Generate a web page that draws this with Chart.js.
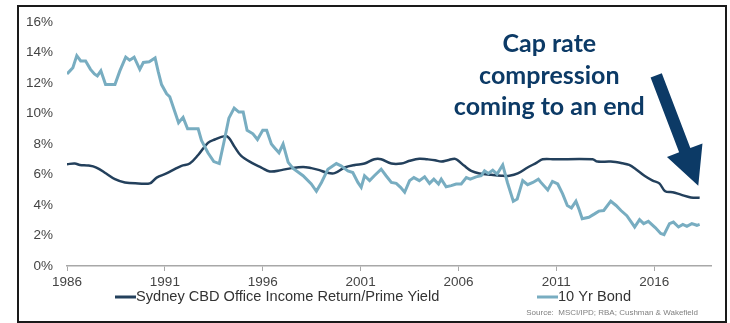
<!DOCTYPE html>
<html>
<head>
<meta charset="utf-8">
<script src="https://cdn.jsdelivr.net/npm/chart.js@4/dist/chart.umd.min.js"></script>
<style>
  html, body { margin: 0; padding: 0; background: #fff; }
  #wrap { position: relative; width: 730px; height: 323px; }
  #chart { position: absolute; left: 0; top: 0; }
  #frame {
    position: absolute; left: 17px; top: 5px; width: 706px; height: 314px;
    border: 2px solid #1a1a1a; pointer-events: none;
  }
</style>
</head>
<body>
<div id="wrap">
  <canvas id="chart" width="730" height="323"></canvas>
  <div id="frame"></div>
</div>
<script>
// Sydney CBD office income return vs 10 year bond yield (% p.a.)
const yieldYears = [1986.0, 1986.4, 1986.66, 1987.09, 1987.5, 1988.0, 1988.45, 1988.96, 1989.64, 1990.23,
  1990.58, 1991.08, 1991.5, 1991.85, 1992.27, 1992.7, 1993.2, 1993.55, 1994.06, 1994.27,
  1994.57, 1994.9, 1995.42, 1995.93, 1996.36, 1996.95, 1997.46, 1998.06, 1998.48, 1998.9,
  1999.25, 1999.67, 2000.18, 2000.7, 2001.2, 2001.7, 2002.05, 2002.57, 2003.08, 2003.5,
  2004.0, 2004.4, 2004.8, 2005.12, 2005.45, 2005.8, 2005.96, 2006.3, 2006.65, 2007.07,
  2007.67, 2008.18, 2008.6, 2009.03, 2009.53, 2010.0, 2010.3, 2010.9, 2012.85, 2013.1,
  2013.78, 2014.38, 2014.72, 2015.06, 2015.5, 2015.92, 2016.26, 2016.56, 2016.94, 2017.36,
  2017.87, 2018.32];
const yieldValues = [6.68, 6.72, 6.63, 6.59, 6.46, 6.07, 5.7, 5.48, 5.42, 5.42,
  5.8, 6.07, 6.35, 6.57, 6.72, 7.28, 8.08, 8.3, 8.52, 8.41,
  7.8, 7.22, 6.78, 6.46, 6.2, 6.29, 6.42, 6.5, 6.42, 6.29,
  6.13, 6.09, 6.46, 6.63, 6.72, 7.0, 7.0, 6.72, 6.72, 6.9,
  7.04, 7.0, 6.94, 6.85, 6.94, 7.04, 6.94, 6.57, 6.24, 6.07,
  5.98, 5.92, 5.92, 6.07, 6.46, 6.78, 7.0, 7.0, 7.0, 6.85,
  6.85, 6.74, 6.63, 6.35, 5.92, 5.6, 5.42, 4.9, 4.84, 4.68,
  4.5, 4.47];

const bondYears = [1986.0, 1986.15, 1986.3, 1986.5, 1986.7, 1986.95, 1987.2, 1987.4, 1987.55, 1987.73,
  1987.97, 1988.45, 1988.7, 1989.0, 1989.2, 1989.43, 1989.72, 1989.9, 1990.2, 1990.5,
  1990.66, 1990.83, 1991.09, 1991.25, 1991.5, 1991.7, 1991.93, 1992.16, 1992.7, 1992.87,
  1993.2, 1993.5, 1993.78, 1994.03, 1994.27, 1994.54, 1994.78, 1995.0, 1995.2, 1995.5,
  1995.73, 1996.0, 1996.2, 1996.44, 1996.6, 1996.83, 1997.04, 1997.3, 1997.55, 1998.06,
  1998.48, 1998.74, 1999.0, 1999.33, 1999.76, 2000.0, 2000.35, 2000.6, 2000.86, 2001.03,
  2001.2, 2001.46, 2001.7, 2002.05, 2002.3, 2002.57, 2002.82, 2003.04, 2003.25, 2003.5,
  2003.72, 2004.0, 2004.27, 2004.52, 2004.74, 2004.98, 2005.12, 2005.37, 2005.63, 2005.88,
  2006.14, 2006.4, 2006.6, 2006.9, 2007.16, 2007.33, 2007.53, 2007.75, 2007.97, 2008.26,
  2008.5, 2008.8, 2009.0, 2009.28, 2009.53, 2009.8, 2010.08, 2010.2, 2010.56, 2010.8,
  2011.07, 2011.32, 2011.56, 2011.77, 2012.0, 2012.15, 2012.32, 2012.66, 2012.95, 2013.17,
  2013.42, 2013.78, 2014.05, 2014.3, 2014.6, 2015.0, 2015.25, 2015.46, 2015.7, 2016.05,
  2016.33, 2016.5, 2016.78, 2016.98, 2017.24, 2017.46, 2017.67, 2017.92, 2018.18, 2018.32];
const bondValues = [12.6, 12.8, 13.0, 13.8, 13.45, 13.45, 12.9, 12.6, 12.47, 12.8,
  11.9, 11.9, 12.8, 13.7, 13.5, 13.7, 12.9, 13.35, 13.4, 13.65,
  12.75, 11.9, 11.3, 11.1, 10.15, 9.4, 9.75, 9.0, 9.0, 8.24,
  7.43, 6.85, 6.72, 8.2, 9.7, 10.36, 10.1, 10.1, 8.9, 8.67,
  8.3, 8.9, 8.9, 8.0, 7.76, 7.43, 8.0, 6.8, 6.4, 5.92,
  5.38, 4.9, 5.48, 6.35, 6.72, 6.57, 6.24, 6.13, 5.48, 5.16,
  5.92, 5.6, 5.92, 6.35, 5.92, 5.48, 5.42, 5.16, 4.84, 5.6,
  5.8, 5.6, 5.85, 5.42, 5.7, 5.38, 5.7, 5.2, 5.27, 5.38,
  5.38, 5.8, 5.7, 5.85, 5.92, 6.24, 6.07, 6.29, 6.03, 6.63,
  5.48, 4.25, 4.4, 5.6, 5.33, 5.48, 5.7, 5.5, 4.99, 5.55,
  5.38, 4.73, 3.97, 3.81, 4.25, 3.75, 3.1, 3.2, 3.42, 3.6,
  3.64, 4.25, 3.97, 3.64, 3.3, 2.56, 3.04, 2.78, 2.93, 2.52,
  2.13, 2.06, 2.78, 2.88, 2.56, 2.73, 2.6, 2.78, 2.67, 2.73];

const xTicks = [1986, 1991, 1996, 2001, 2006, 2011, 2016];
const seriesNames = ['Sydney CBD Office Income Return/Prime Yield', '10 Yr Bond'];
const calloutLines = ['Cap rate', 'compression', 'coming to an end'];
const sourceNote = 'Source:  MSCI/IPD; RBA; Cushman & Wakefield';

const NAVY = '#0c3a66';
const AXIS_FONT = { family: "'Liberation Sans', Arial, sans-serif", size: 13.5 };

function toPoints(xs, ys) {
  return xs.map((x, i) => ({ x, y: ys[i] }));
}

// Custom legend row under the axis
const bottomLegend = {
  id: 'bottomLegend',
  afterDraw(chart) {
    const ctx = chart.ctx;
    const slots = [115, 537];
    ctx.save();
    ctx.font = "14.6px 'Liberation Sans', Arial, sans-serif";
    ctx.textBaseline = 'middle';
    chart.data.datasets.forEach((ds, i) => {
      const x = slots[i], y = 297;
      ctx.strokeStyle = ds.borderColor;
      ctx.lineWidth = 3;
      ctx.beginPath();
      ctx.moveTo(x, y);
      ctx.lineTo(x + 21, y);
      ctx.stroke();
      ctx.fillStyle = '#333';
      ctx.fillText(ds.label, x + 21, y);
    });
    ctx.font = "8px 'Liberation Sans', Arial, sans-serif";
    ctx.fillStyle = '#808080';
    ctx.textAlign = 'right';
    ctx.fillText(sourceNote, 698, 313);
    ctx.restore();
  }
};

// Callout text and arrow pointing at the latest readings
const callout = {
  id: 'callout',
  afterDraw(chart) {
    const ctx = chart.ctx;
    const xs = chart.scales.x, ys = chart.scales.y;
    ctx.save();
    ctx.fillStyle = NAVY;
    ctx.font = "bold 25px Lato, 'Open Sans', sans-serif";
    ctx.textAlign = 'center';
    ctx.textBaseline = 'middle';
    const cx = xs.getPixelForValue(2010.64);
    calloutLines.forEach((t, i) => {
      ctx.fillText(t, cx, ys.getPixelForValue(14.55 - i * 2.05));
    });

    const tail = { x: xs.getPixelForValue(2016.1), y: ys.getPixelForValue(12.5) };
    const tip = { x: xs.getPixelForValue(2018.25), y: ys.getPixelForValue(5.27) };
    const dx = tip.x - tail.x, dy = tip.y - tail.y;
    const len = Math.hypot(dx, dy);
    const ux = dx / len, uy = dy / len;
    const nx = -uy, ny = ux;
    const shaft = 6, head = 19, headLen = 38;
    const bx = tip.x - ux * headLen, by = tip.y - uy * headLen;
    ctx.beginPath();
    ctx.moveTo(tail.x + nx * shaft, tail.y + ny * shaft);
    ctx.lineTo(bx + nx * shaft, by + ny * shaft);
    ctx.lineTo(bx + nx * head, by + ny * head);
    ctx.lineTo(tip.x, tip.y);
    ctx.lineTo(bx - nx * head, by - ny * head);
    ctx.lineTo(bx - nx * shaft, by - ny * shaft);
    ctx.lineTo(tail.x - nx * shaft, tail.y - ny * shaft);
    ctx.closePath();
    ctx.fill();
    ctx.restore();
  }
};

new Chart(document.getElementById('chart'), {
  type: 'line',
  data: {
    datasets: [
      {
        label: seriesNames[0],
        data: toPoints(yieldYears, yieldValues),
        borderColor: '#23405c',
        borderWidth: 2.5,
        pointRadius: 0,
        tension: 0.35,
        order: 2
      },
      {
        label: seriesNames[1],
        data: toPoints(bondYears, bondValues),
        borderColor: '#78adc1',
        borderWidth: 3,
        pointRadius: 0,
        tension: 0,
        order: 1
      }
    ]
  },
  options: {
    responsive: false,
    animation: false,
    layout: { padding: { top: 20, right: 19, bottom: 0, left: 0 } },
    plugins: {
      legend: { display: false },
      tooltip: { enabled: false }
    },
    scales: {
      x: {
        type: 'linear',
        min: 1986,
        max: 2018.9,
        afterBuildTicks: scale => { scale.ticks = xTicks.map(v => ({ value: v })); },
        afterFit: scale => { scale.height = 57; },
        grid: { drawOnChartArea: false, drawTicks: true, tickLength: 5, color: '#a8a8a8' },
        border: { display: true, color: '#a8a8a8', width: 1.5 },
        ticks: { color: '#444', font: AXIS_FONT, padding: 3, maxRotation: 0, callback: v => String(v) }
      },
      y: {
        min: 0,
        max: 16,
        afterFit: scale => { scale.width = 67; },
        grid: { display: false, drawTicks: false },
        border: { display: false },
        ticks: { stepSize: 2, color: '#444', font: AXIS_FONT, padding: 14, callback: v => v + '%' }
      }
    }
  },
  plugins: [bottomLegend, callout]
});
</script>
</body>
</html>
